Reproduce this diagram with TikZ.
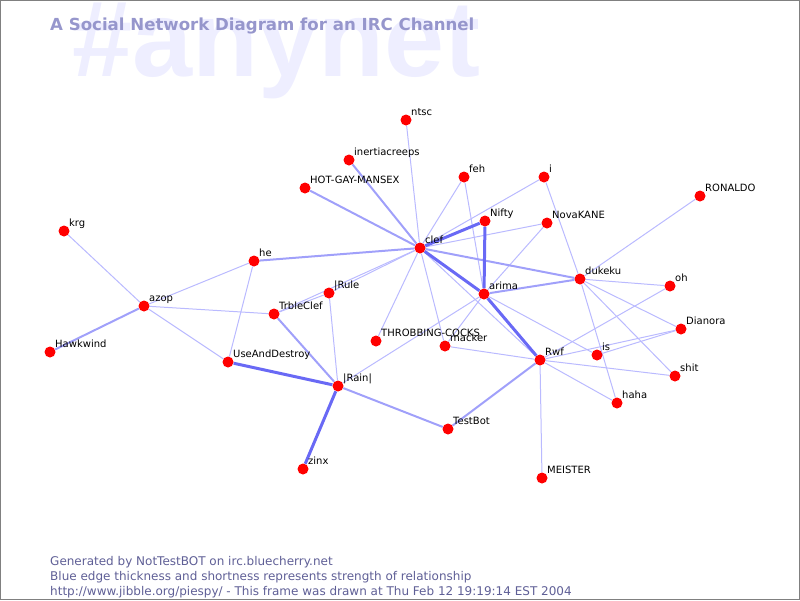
\documentclass[tikz,border=0pt]{standalone}
\usepackage{fontspec}
\setmainfont{DejaVu Sans}
\newfontfamily\markfont{Liberation Sans}
\usepackage{tikz}
\usetikzlibrary{backgrounds}
\definecolor{dotred}{RGB}{255,0,0}
\definecolor{linkweak}{RGB}{186,186,255}
\definecolor{linkmid}{RGB}{160,160,250}
\definecolor{linkstrong}{RGB}{105,105,245}
\definecolor{titleblue}{RGB}{150,150,204}
\definecolor{markblue}{RGB}{238,238,255}
\definecolor{footblue}{RGB}{95,95,150}
\definecolor{framegrey}{RGB}{128,128,128}
\tikzset{
  nick/.style={circle, fill=dotred, minimum size=11pt, inner sep=0pt},
  nicktext/.style={anchor=base west, inner sep=0pt, xshift=5pt, yshift=5pt,
    font=\fontsize{10}{10}\selectfont},
  weaklink/.style={draw=linkweak, line width=1pt},
  midlink/.style={draw=linkmid, line width=2pt},
  stronglink/.style={draw=linkstrong, line width=3pt},
  foot/.style={anchor=base west, inner sep=0pt, text=footblue,
    font=\fontsize{12}{12}\selectfont}
}

\begin{document}
\begin{tikzpicture}[x=1pt, y=-1pt]
  \useasboundingbox (0,0) rectangle (800,600);
  % Watermark and title
  \node[anchor=base west, inner sep=0pt, text=markblue,
    font=\markfont\bfseries\fontsize{108}{108}\selectfont] (mark) at (72,76) {\#anynet};
  \node[anchor=base west, inner sep=0pt, text=titleblue,
    font=\bfseries\fontsize{16.6}{17}\selectfont] (title) at (50,30) {A Social Network Diagram for an IRC Channel};
  % Nicks
  \node[nick] (ntsc) at (406,120) {};
  \node[nicktext] at (ntsc.center) {ntsc};
  \node[nick] (inertia) at (349,160) {};
  \node[nicktext] at (inertia.center) {inertiacreeps};
  \node[nick] (hotgay) at (305,188) {};
  \node[nicktext] at (hotgay.center) {HOT-GAY-MANSEX};
  \node[nick] (feh) at (464,177) {};
  \node[nicktext] at (feh.center) {feh};
  \node[nick] (i) at (544,177) {};
  \node[nicktext] at (i.center) {i};
  \node[nick] (nifty) at (485,221) {};
  \node[nicktext] at (nifty.center) {Nifty};
  \node[nick] (novakane) at (547,223) {};
  \node[nicktext] at (novakane.center) {NovaKANE};
  \node[nick] (ronaldo) at (700,196) {};
  \node[nicktext] at (ronaldo.center) {RONALDO};
  \node[nick] (krg) at (64,231) {};
  \node[nicktext] at (krg.center) {krg};
  \node[nick] (clef) at (420,248) {};
  \node[nicktext] at (clef.center) {clef};
  \node[nick] (he) at (254,261) {};
  \node[nicktext] at (he.center) {he};
  \node[nick] (dukeku) at (580,279) {};
  \node[nicktext] at (dukeku.center) {dukeku};
  \node[nick] (oh) at (670,286) {};
  \node[nicktext] at (oh.center) {oh};
  \node[nick] (arima) at (484,294) {};
  \node[nicktext] at (arima.center) {arima};
  \node[nick] (rule) at (329,293) {};
  \node[nicktext] at (rule.center) {|Rule};
  \node[nick] (azop) at (144,306) {};
  \node[nicktext] at (azop.center) {azop};
  \node[nick] (trbleclef) at (274,314) {};
  \node[nicktext] at (trbleclef.center) {TrbleClef};
  \node[nick] (dianora) at (681,329) {};
  \node[nicktext] at (dianora.center) {Dianora};
  \node[nick] (throbbing) at (376,341) {};
  \node[nicktext] at (throbbing.center) {THROBBING-COCKS};
  \node[nick] (macker) at (445,346) {};
  \node[nicktext] at (macker.center) {macker};
  \node[nick] (hawkwind) at (50,352) {};
  \node[nicktext] at (hawkwind.center) {Hawkwind};
  \node[nick] (rwf) at (540,360) {};
  \node[nicktext] at (rwf.center) {Rwf};
  \node[nick] (is) at (597,355) {};
  \node[nicktext] at (is.center) {is};
  \node[nick] (usedestroy) at (228,362) {};
  \node[nicktext] at (usedestroy.center) {UseAndDestroy};
  \node[nick] (shit) at (675,376) {};
  \node[nicktext] at (shit.center) {shit};
  \node[nick] (rain) at (338,386) {};
  \node[nicktext] at (rain.center) {|Rain|};
  \node[nick] (haha) at (617,403) {};
  \node[nicktext] at (haha.center) {haha};
  \node[nick] (testbot) at (448,429) {};
  \node[nicktext] at (testbot.center) {TestBot};
  \node[nick] (zinx) at (303,469) {};
  \node[nicktext] at (zinx.center) {zinx};
  \node[nick] (meister) at (542,478) {};
  \node[nicktext] at (meister.center) {MEISTER};
  % Links
  \begin{pgfonlayer}{background}
    \draw[weaklink] (ntsc) -- (clef);
    \draw[weaklink] (feh) -- (clef);
    \draw[weaklink] (feh) -- (arima);
    \draw[weaklink] (i) -- (clef);
    \draw[weaklink] (i) -- (dukeku);
    \draw[weaklink] (dukeku) -- (haha);
    \draw[weaklink] (novakane) -- (clef);
    \draw[weaklink] (novakane) -- (arima);
    \draw[weaklink] (arima) -- (macker);
    \draw[weaklink] (arima) -- (rain);
    \draw[weaklink] (arima) -- (is);
    \draw[weaklink] (clef) -- (rule);
    \draw[weaklink] (clef) -- (trbleclef);
    \draw[weaklink] (clef) -- (throbbing);
    \draw[weaklink] (clef) -- (macker);
    \draw[weaklink] (clef) -- (rwf);
    \draw[weaklink] (dukeku) -- (ronaldo);
    \draw[weaklink] (dukeku) -- (oh);
    \draw[weaklink] (dukeku) -- (dianora);
    \draw[weaklink] (dukeku) -- (shit);
    \draw[weaklink] (oh) -- (rwf);
    \draw[weaklink] (dianora) -- (is);
    \draw[weaklink] (dianora) -- (rwf);
    \draw[weaklink] (rwf) -- (shit);
    \draw[weaklink] (rwf) -- (haha);
    \draw[weaklink] (rwf) -- (macker);
    \draw[weaklink] (rwf) -- (meister);
    \draw[weaklink] (rain) -- (rule);
    \draw[weaklink] (trbleclef) -- (rule);
    \draw[weaklink] (trbleclef) -- (azop);
    \draw[weaklink] (azop) -- (he);
    \draw[weaklink] (azop) -- (krg);
    \draw[weaklink] (azop) -- (usedestroy);
    \draw[weaklink] (he) -- (usedestroy);
    \draw[midlink] (inertia) -- (clef);
    \draw[midlink] (hotgay) -- (clef);
    \draw[midlink] (he) -- (clef);
    \draw[midlink] (clef) -- (dukeku);
    \draw[midlink] (arima) -- (dukeku);
    \draw[midlink] (rwf) -- (testbot);
    \draw[midlink] (azop) -- (hawkwind);
    \draw[midlink] (trbleclef) -- (rain);
    \draw[midlink] (rain) -- (testbot);
    \draw[stronglink] (clef) -- (nifty);
    \draw[stronglink] (nifty) -- (arima);
    \draw[stronglink] (clef) -- (arima);
    \draw[stronglink] (arima) -- (rwf);
    \draw[stronglink] (rain) -- (usedestroy);
    \draw[stronglink] (rain) -- (zinx);
  \end{pgfonlayer}
  % Footer
  \node[foot] (gen) at (50,565) {Generated by NotTestBOT on irc.bluecherry.net};
  \node[foot] (note) at (50,580) {Blue edge thickness and shortness represents strength of relationship};
  \node[foot] (url) at (50,595) {http://www.jibble.org/piespy/ - This frame was drawn at Thu Feb 12 19:19:14 EST 2004};
  % Frame
  \draw[framegrey, line width=1pt] (0.5,0.5) rectangle (799.5,599.5);
\end{tikzpicture}
\end{document}
